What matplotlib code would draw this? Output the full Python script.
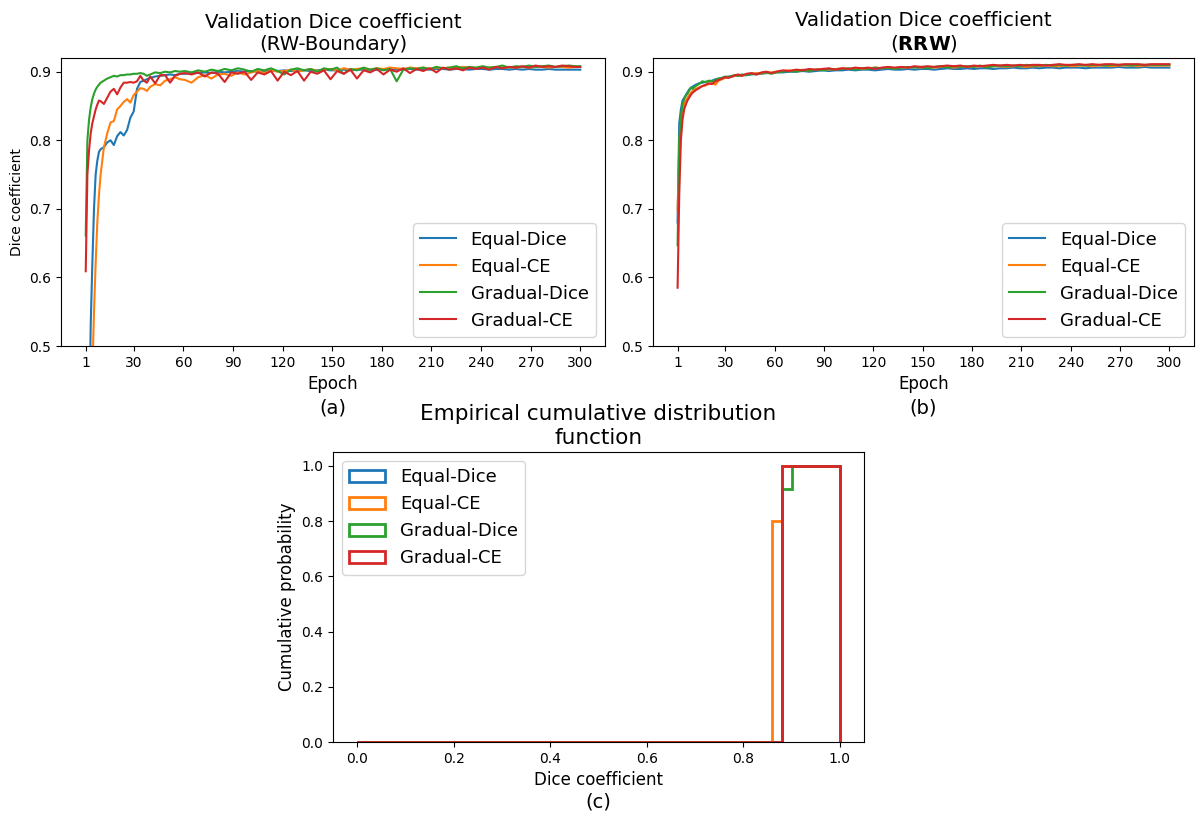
import numpy as np
import matplotlib
matplotlib.use("Agg")
import matplotlib.pyplot as plt

# ---------------- data ----------------
series_names = ["Equal-Dice", "Equal-CE", "Gradual-Dice", "Gradual-CE"]
colors = ["#1f77b4", "#ff7f0e", "#2ca02c", "#d62728"]

epochs = ([1, 2, 3, 4, 5, 6, 7, 8, 9, 10] + list(range(12, 41, 2))
          + [43, 46, 49, 52, 55, 58] + list(range(61, 298, 4)) + [300])
x_ticks = [1, 30, 60, 90, 120, 150, 180, 210, 240, 270, 300]

# (a) RW-Boundary
rwb_equal_dice = [0.20, 0.26, 0.36, 0.53, 0.62, 0.70, 0.75, 0.77, 0.783, 0.787,
                  0.790, 0.797, 0.800, 0.793, 0.806, 0.812, 0.807, 0.815, 0.833, 0.842,
                  0.875, 0.885, 0.887, 0.889, 0.891, 0.893, 0.894, 0.895, 0.896, 0.895, 0.897,
                  0.897, 0.898, 0.898, 0.899, 0.898, 0.900, 0.899, 0.900, 0.901, 0.900,
                  0.901, 0.900, 0.901, 0.902, 0.901, 0.902, 0.901, 0.902, 0.902, 0.901,
                  0.902, 0.903, 0.902, 0.902, 0.903, 0.902, 0.903, 0.903, 0.902, 0.903,
                  0.903, 0.904, 0.903, 0.903, 0.904, 0.903, 0.904, 0.903, 0.904, 0.904,
                  0.903, 0.904, 0.904, 0.903, 0.904, 0.904, 0.903, 0.904, 0.904, 0.903,
                  0.904, 0.903, 0.904, 0.903, 0.903, 0.904, 0.903, 0.903, 0.903, 0.903, 0.903]
rwb_equal_ce = [0.20, 0.25, 0.30, 0.36, 0.46, 0.55, 0.62, 0.68, 0.72, 0.75,
                0.79, 0.81, 0.826, 0.828, 0.845, 0.850, 0.856, 0.860, 0.855, 0.866,
                0.871, 0.876, 0.875, 0.872, 0.878, 0.882, 0.880, 0.887, 0.889, 0.892, 0.889,
                0.888, 0.884, 0.892, 0.895, 0.890, 0.896, 0.897, 0.894, 0.899, 0.896,
                0.899, 0.901, 0.898, 0.902, 0.900, 0.901, 0.903, 0.900, 0.902, 0.904,
                0.901, 0.903, 0.904, 0.902, 0.905, 0.903, 0.904, 0.905, 0.903, 0.905,
                0.904, 0.906, 0.905, 0.904, 0.906, 0.905, 0.906, 0.904, 0.906, 0.905,
                0.906, 0.905, 0.907, 0.906, 0.905, 0.907, 0.906, 0.907, 0.906, 0.907,
                0.906, 0.907, 0.906, 0.907, 0.907, 0.906, 0.907, 0.907, 0.906, 0.907, 0.907]
rwb_gradual_dice = [0.661, 0.80, 0.83, 0.848, 0.86, 0.868, 0.874, 0.878, 0.881, 0.884,
                    0.887, 0.890, 0.892, 0.894, 0.893, 0.895, 0.895, 0.896, 0.896, 0.897,
                    0.897, 0.898, 0.897, 0.894, 0.896, 0.899, 0.898, 0.900, 0.899, 0.901, 0.900,
                    0.901, 0.899, 0.902, 0.900, 0.903, 0.901, 0.904, 0.902, 0.905, 0.903,
                    0.900, 0.904, 0.902, 0.905, 0.901, 0.896, 0.903, 0.905, 0.902, 0.904,
                    0.900, 0.905, 0.903, 0.906, 0.897, 0.904, 0.902, 0.906, 0.903, 0.905,
                    0.902, 0.904, 0.886, 0.903, 0.905, 0.904, 0.906, 0.904, 0.907, 0.905,
                    0.906, 0.908, 0.905, 0.907, 0.906, 0.908, 0.906, 0.907, 0.909, 0.906,
                    0.908, 0.907, 0.909, 0.907, 0.908, 0.909, 0.907, 0.908, 0.909, 0.908, 0.908]
rwb_gradual_ce = [0.609, 0.75, 0.785, 0.81, 0.825, 0.835, 0.845, 0.852, 0.858, 0.857,
                  0.853, 0.862, 0.871, 0.875, 0.867, 0.877, 0.884, 0.884, 0.885, 0.884,
                  0.886, 0.894, 0.887, 0.884, 0.893, 0.883, 0.895, 0.895, 0.884, 0.894, 0.897,
                  0.898, 0.896, 0.899, 0.893, 0.899, 0.897, 0.885, 0.899, 0.897, 0.900,
                  0.888, 0.899, 0.896, 0.901, 0.887, 0.900, 0.895, 0.901, 0.887, 0.900,
                  0.897, 0.902, 0.889, 0.901, 0.897, 0.903, 0.890, 0.902, 0.899, 0.904,
                  0.896, 0.903, 0.900, 0.905, 0.898, 0.904, 0.901, 0.905, 0.899, 0.906,
                  0.903, 0.905, 0.902, 0.906, 0.904, 0.906, 0.903, 0.907, 0.905, 0.907,
                  0.906, 0.908, 0.906, 0.909, 0.907, 0.908, 0.907, 0.909, 0.908, 0.907, 0.907]

# (b) RRW
rrw_equal_dice = [0.68, 0.825, 0.845, 0.858, 0.862, 0.866, 0.870, 0.874, 0.876, 0.878,
                  0.881, 0.883, 0.884, 0.885, 0.886, 0.887, 0.889, 0.890, 0.891, 0.892,
                  0.893, 0.893, 0.894, 0.894, 0.895, 0.895, 0.896, 0.897, 0.897, 0.898, 0.898,
                  0.899, 0.899, 0.900, 0.900, 0.901, 0.900, 0.901, 0.902, 0.901, 0.902,
                  0.902, 0.903, 0.902, 0.903, 0.903, 0.902, 0.903, 0.904, 0.903, 0.903,
                  0.904, 0.903, 0.904, 0.904, 0.903, 0.904, 0.905, 0.904, 0.904, 0.905,
                  0.904, 0.905, 0.905, 0.904, 0.905, 0.905, 0.906, 0.905, 0.905, 0.906,
                  0.905, 0.906, 0.906, 0.905, 0.906, 0.906, 0.906, 0.905, 0.906, 0.906,
                  0.906, 0.906, 0.907, 0.906, 0.906, 0.906, 0.907, 0.906, 0.906, 0.906, 0.906]
rrw_equal_ce = [0.698, 0.79, 0.82, 0.84, 0.852, 0.858, 0.862, 0.866, 0.869, 0.872,
                0.875, 0.877, 0.879, 0.880, 0.882, 0.884, 0.881, 0.887, 0.889, 0.891,
                0.892, 0.893, 0.894, 0.895, 0.894, 0.896, 0.897, 0.898, 0.897, 0.899, 0.899,
                0.900, 0.901, 0.902, 0.901, 0.903, 0.902, 0.903, 0.904, 0.903, 0.904,
                0.905, 0.904, 0.905, 0.904, 0.905, 0.906, 0.905, 0.906, 0.905, 0.906,
                0.906, 0.907, 0.906, 0.907, 0.906, 0.907, 0.907, 0.906, 0.907, 0.908,
                0.907, 0.908, 0.907, 0.908, 0.908, 0.907, 0.908, 0.908, 0.907, 0.908,
                0.908, 0.909, 0.908, 0.908, 0.909, 0.908, 0.909, 0.909, 0.908, 0.909,
                0.909, 0.908, 0.909, 0.909, 0.909, 0.908, 0.909, 0.909, 0.909, 0.909, 0.909]
rrw_gradual_dice = [0.647, 0.80, 0.835, 0.852, 0.860, 0.865, 0.868, 0.872, 0.877, 0.875,
                    0.879, 0.882, 0.886, 0.885, 0.887, 0.886, 0.888, 0.890, 0.891, 0.893,
                    0.892, 0.894, 0.895, 0.894, 0.896, 0.895, 0.897, 0.896, 0.898, 0.899, 0.897,
                    0.899, 0.900, 0.901, 0.900, 0.902, 0.901, 0.903, 0.902, 0.904, 0.903,
                    0.904, 0.905, 0.903, 0.905, 0.904, 0.906, 0.905, 0.906, 0.904, 0.906,
                    0.907, 0.906, 0.907, 0.905, 0.907, 0.908, 0.906, 0.908, 0.907, 0.908,
                    0.907, 0.909, 0.906, 0.908, 0.909, 0.908, 0.909, 0.908, 0.910, 0.909,
                    0.909, 0.910, 0.909, 0.910, 0.909, 0.910, 0.910, 0.909, 0.910, 0.910,
                    0.909, 0.910, 0.910, 0.910, 0.909, 0.910, 0.910, 0.910, 0.910, 0.910, 0.910]
rrw_gradual_ce = [0.585, 0.72, 0.80, 0.83, 0.845, 0.852, 0.858, 0.862, 0.866, 0.869,
                  0.873, 0.876, 0.879, 0.881, 0.883, 0.882, 0.886, 0.888, 0.890, 0.892,
                  0.891, 0.893, 0.895, 0.896, 0.894, 0.897, 0.898, 0.896, 0.899, 0.900, 0.898,
                  0.900, 0.902, 0.901, 0.903, 0.902, 0.904, 0.903, 0.904, 0.905, 0.903,
                  0.905, 0.904, 0.906, 0.905, 0.906, 0.904, 0.906, 0.907, 0.906, 0.907,
                  0.906, 0.908, 0.907, 0.908, 0.907, 0.908, 0.909, 0.908, 0.909, 0.907,
                  0.909, 0.908, 0.909, 0.910, 0.909, 0.910, 0.909, 0.910, 0.909, 0.910,
                  0.910, 0.909, 0.910, 0.911, 0.910, 0.910, 0.911, 0.910, 0.911, 0.910,
                  0.911, 0.911, 0.910, 0.911, 0.911, 0.911, 0.910, 0.911, 0.911, 0.911, 0.911]

# (c) final Dice scores for the ECDF
final_equal_dice = [0.89, 0.89, 0.89, 0.89, 0.89]
final_equal_ce = [0.87, 0.87, 0.87, 0.87, 0.89]
final_gradual_dice = [0.89, 0.89, 0.89, 0.89, 0.89, 0.89, 0.89, 0.89, 0.89, 0.89, 0.89, 0.91]
final_gradual_ce = [0.89, 0.89, 0.89, 0.89, 0.89]
ecdf_bins = np.linspace(0, 1, 51)

# ---------------- figure ----------------
fig = plt.figure(figsize=(11.96, 8.15), dpi=100)
W, H = 1196, 815

def axes_px(l, t, r, b):
    return fig.add_axes([l / W, 1 - b / H, (r - l) / W, (b - t) / H])

ax1 = axes_px(61, 58, 605, 346)
ax2 = axes_px(653, 58, 1194, 346)
ax3 = axes_px(333, 452, 864, 742)

rwb = [rwb_equal_dice, rwb_equal_ce, rwb_gradual_dice, rwb_gradual_ce]
rrw = [rrw_equal_dice, rrw_equal_ce, rrw_gradual_dice, rrw_gradual_ce]

for ax, data in ((ax1, rwb), (ax2, rrw)):
    for name, c, vals in zip(series_names, colors, data):
        ax.plot(epochs, vals, color=c, lw=1.5, label=name)
    ax.set_xticks(x_ticks)
    ax.set_ylim(0.5, 0.92)
    ax.set_yticks([0.5, 0.6, 0.7, 0.8, 0.9])
    ax.tick_params(labelsize=10)
    ax.set_xlabel("Epoch", fontsize=12)
    ax.legend(loc="lower right", fontsize=13)

ax1.set_title("Validation Dice coefficient\n(RW-Boundary)", fontsize=14.2)
ax2.set_title("Validation Dice coefficient\n($\\mathbf{RRW}$)", fontsize=14.2)
ax1.set_ylabel("Dice coefficient", fontsize=10)

finals = [final_equal_dice, final_equal_ce, final_gradual_dice, final_gradual_ce]
for name, c, vals in zip(series_names, colors, finals):
    ax3.hist(vals, bins=ecdf_bins, cumulative=True, density=True,
             histtype="step", lw=2, color=c, label=name)
ax3.tick_params(labelsize=10)
ax3.set_xlabel("Dice coefficient", fontsize=12)
ax3.set_ylabel("Cumulative probability", fontsize=12)
ax3.set_title("Empirical cumulative distribution\nfunction", fontsize=15.5)
ax3.legend(loc="upper left", fontsize=13)

fig.text(333 / W, 1 - 408 / H, "(a)", ha="center", va="center", fontsize=14)
fig.text(923 / W, 1 - 408 / H, "(b)", ha="center", va="center", fontsize=14)
fig.text(598 / W, 1 - 802 / H, "(c)", ha="center", va="center", fontsize=14)

fig.savefig("out.png", dpi=100)
